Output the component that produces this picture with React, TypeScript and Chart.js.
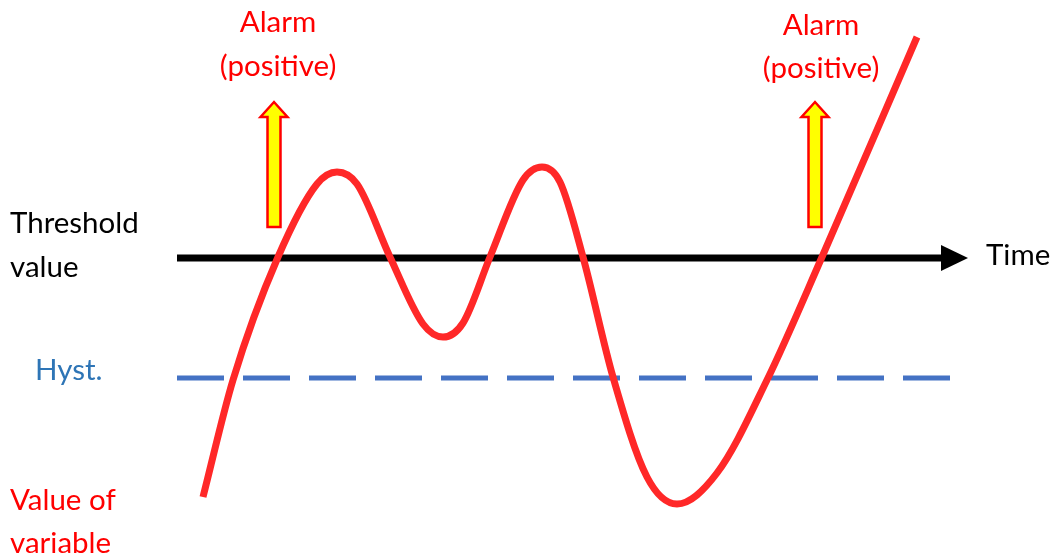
import React, { useEffect, useRef } from "react";
import { Chart, registerables } from "chart.js";

Chart.register(...registerables);

// Diagram units: x = time (0..105.4), y = value (0..56)
const curveX = [20.3, 23.3, 27.8, 31.7, 33.7, 35.7, 39.0, 42.3, 44.3, 46.3, 49.0, 52.3, 54.2, 56.0, 58.3, 61.3, 64.7, 67.7, 71.7, 76.7, 82.2, 91.7];
const curveY = [6.3, 18.0, 30.3, 37.6, 38.8, 37.6, 30.3, 23.6, 22.3, 23.7, 30.3, 38.0, 39.3, 37.8, 30.3, 18.3, 8.3, 5.6, 8.7, 18.0, 30.3, 52.3];

const thresholdValue = 30.2;
const thresholdX = [17.7, 94.3];
const arrowTipX = 96.8;
const hystValue = 18.2;
const hystX = [17.7, 95.0];

const alarmX = [27.4, 81.5];
const alarmBottom = 33.3;
const alarmHeadBase = 44.3;
const alarmTop = 45.8;

const X_MIN = 0, X_MAX = 105.4, Y_MIN = 0, Y_MAX = 56;

type Label = { text: string; x: number; y: number; color: string; align: CanvasTextAlign };
const labels: Label[] = [
  { text: "Alarm", x: 27.8, y: 52.8, color: "#ff0000", align: "center" },
  { text: "(positive)", x: 27.8, y: 48.4, color: "#ff0000", align: "center" },
  { text: "Alarm", x: 82.1, y: 52.5, color: "#ff0000", align: "center" },
  { text: "(positive)", x: 82.1, y: 48.2, color: "#ff0000", align: "center" },
  { text: "Threshold", x: 1.0, y: 32.7, color: "#000000", align: "left" },
  { text: "value", x: 1.0, y: 28.3, color: "#000000", align: "left" },
  { text: "Time", x: 98.6, y: 29.5, color: "#000000", align: "left" },
  { text: "Hyst.", x: 3.5, y: 18.0, color: "#2e75b6", align: "left" },
  { text: "Value of", x: 1.0, y: 5.0, color: "#ff0000", align: "left" },
  { text: "variable", x: 1.0, y: 0.7, color: "#ff0000", align: "left" },
];

const FONT = "29.5px Lato, 'Open Sans', sans-serif";

const decorPlugin = {
  id: "decor",
  afterDatasetsDraw(chart: any) {
    const { ctx, scales } = chart;
    const xs = scales.x, ys = scales.y;
    ctx.save();
    // threshold arrowhead
    const lx = xs.getPixelForValue(thresholdX[1]);
    const ly = ys.getPixelForValue(thresholdValue);
    const tx = xs.getPixelForValue(arrowTipX);
    ctx.fillStyle = "#000000";
    ctx.beginPath();
    ctx.moveTo(lx - 2, ly - 13);
    ctx.lineTo(tx, ly);
    ctx.lineTo(lx - 2, ly + 13);
    ctx.closePath();
    ctx.fill();

    // alarm arrows
    alarmX.forEach((ax) => {
      const cx = xs.getPixelForValue(ax);
      const yb = ys.getPixelForValue(alarmBottom);
      const yh = ys.getPixelForValue(alarmHeadBase);
      const yt = ys.getPixelForValue(alarmTop);
      const sw = 6.5, hw = 13.5;
      ctx.beginPath();
      ctx.moveTo(cx - sw, yb);
      ctx.lineTo(cx - sw, yh);
      ctx.lineTo(cx - hw, yh);
      ctx.lineTo(cx, yt);
      ctx.lineTo(cx + hw, yh);
      ctx.lineTo(cx + sw, yh);
      ctx.lineTo(cx + sw, yb);
      ctx.closePath();
      ctx.fillStyle = "#ffff00";
      ctx.fill();
      ctx.strokeStyle = "#ff0000";
      ctx.lineWidth = 2.5;
      ctx.lineJoin = "miter";
      ctx.stroke();
    });

    // labels
    ctx.font = FONT;
    ctx.textBaseline = "alphabetic";
    labels.forEach((l) => {
      ctx.fillStyle = l.color;
      ctx.textAlign = l.align;
      ctx.fillText(l.text, xs.getPixelForValue(l.x), ys.getPixelForValue(l.y));
    });
    ctx.restore();
  },
};

export default function App() {
  const ref = useRef<HTMLCanvasElement>(null);
  useEffect(() => {
    if (!ref.current) return;
    const chart = new Chart(ref.current, {
      type: "line",
      data: {
        datasets: [
          {
            label: "Threshold",
            data: thresholdX.map((x) => ({ x, y: thresholdValue })),
            borderColor: "#000000",
            borderWidth: 7,
            pointRadius: 0,
            borderCapStyle: "butt",
            order: 3,
          },
          {
            label: "Hyst.",
            data: hystX.map((x) => ({ x, y: hystValue })),
            borderColor: "#4472c4",
            borderWidth: 5,
            borderDash: [47, 19],
            pointRadius: 0,
            borderCapStyle: "butt",
            order: 2,
          },
          {
            label: "Value of variable",
            data: curveX.map((x, i) => ({ x, y: curveY[i] })),
            borderColor: "#ff2828",
            borderWidth: 7,
            pointRadius: 0,
            cubicInterpolationMode: "monotone",
            borderCapStyle: "butt",
            order: 1,
          },
        ],
      },
      options: {
        animation: false,
        responsive: false,
        maintainAspectRatio: false,
        layout: { padding: 0 },
        plugins: { legend: { display: false }, tooltip: { enabled: false } },
        scales: {
          x: { type: "linear", min: X_MIN, max: X_MAX, display: false },
          y: { type: "linear", min: Y_MIN, max: Y_MAX, display: false },
        },
      },
      plugins: [decorPlugin],
    } as any);
    return () => chart.destroy();
  }, []);
  return (
    <div style={{ position: "fixed", left: 0, top: 0, width: 1054, height: 560, background: "#ffffff" }}>
      <canvas ref={ref} width={1054} height={560} style={{ width: 1054, height: 560, display: "block" }} />
    </div>
  );
}
